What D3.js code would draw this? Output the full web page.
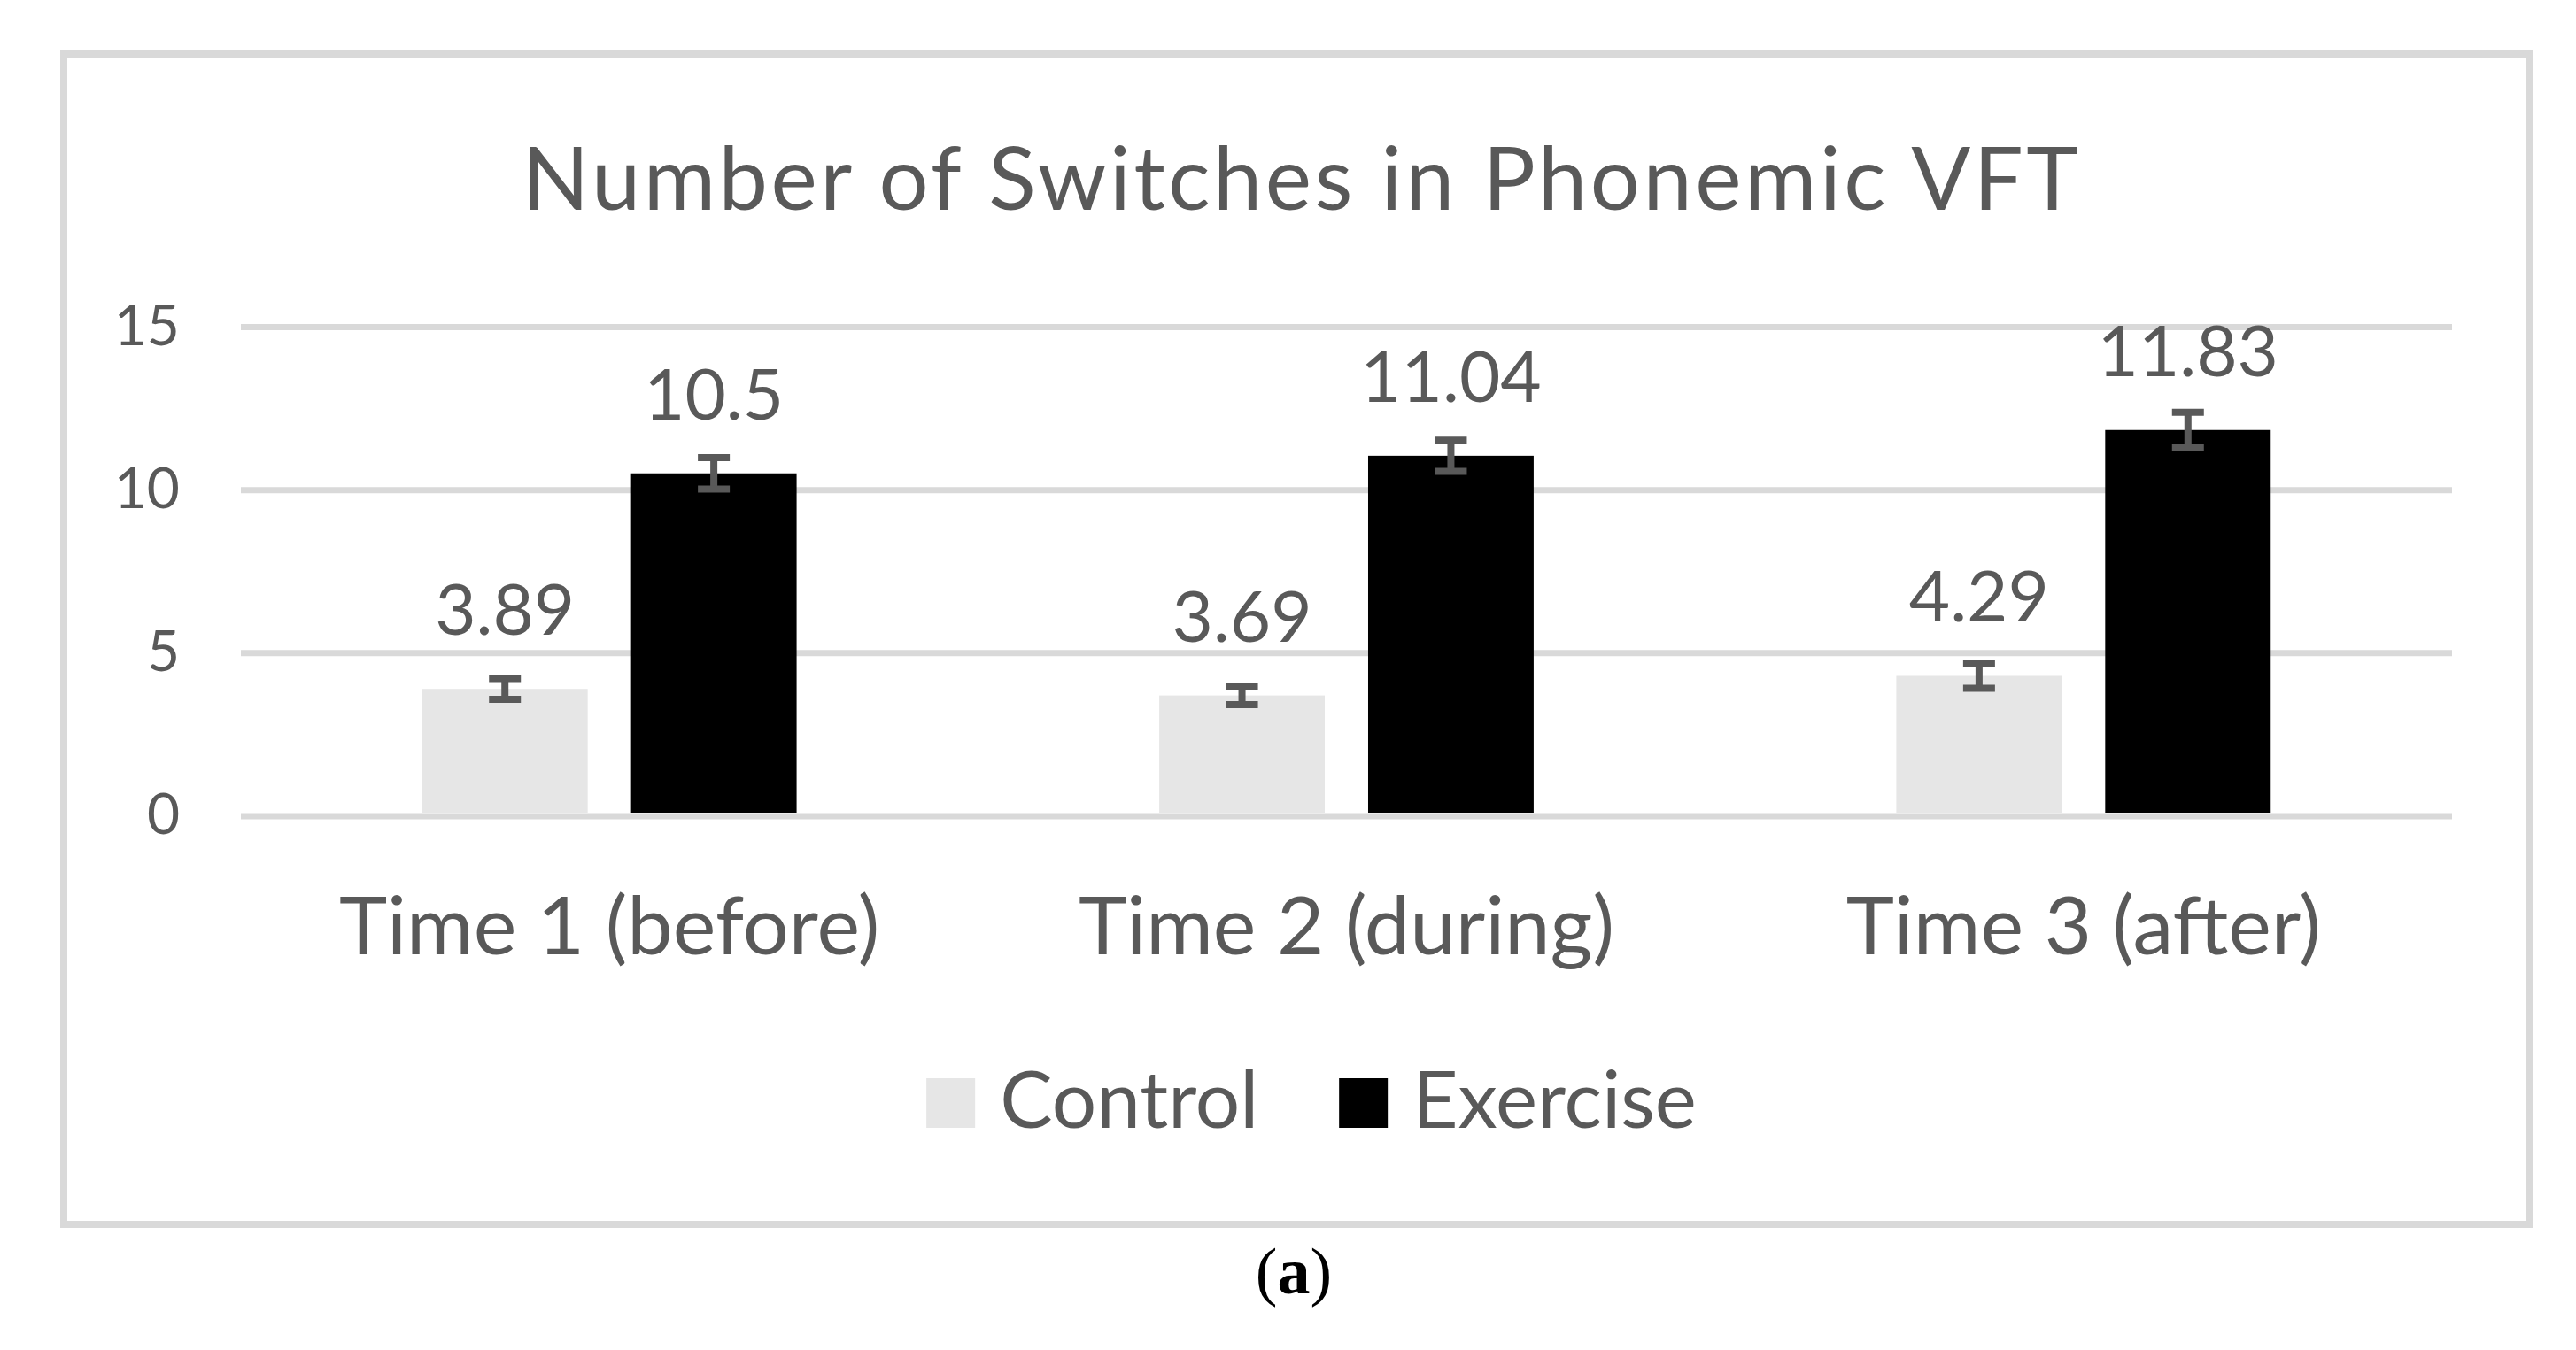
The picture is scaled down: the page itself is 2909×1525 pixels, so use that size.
<!DOCTYPE html>
<html lang="en">
<head>
  <meta charset="utf-8" />
  <style>
    body { margin: 0; background: #fff; }
    text { font-family: Lato, "Open Sans", sans-serif; fill: #595959; }
  </style>
</head>
<body>
<svg width="2909" height="1525"></svg>
<script src="https://d3js.org/d3.v7.min.js"></script>
<script>
var categories = ["Time 1 (before)", "Time 2 (during)", "Time 3 (after)"],
    series = ["Control", "Exercise"],
    controlValues = [3.89, 3.69, 4.29],
    exerciseValues = [10.5, 11.04, 11.83],
    controlErrors = [0.32, 0.28, 0.38],
    exerciseErrors = [0.48, 0.48, 0.54],
    yTicks = [0, 5, 10, 15],
    colors = ["#e6e6e6", "#000000"];

var svg = d3.select("svg");

var rows = categories.map(function(c, i) {
  return {
    category: c,
    bars: [
      { series: series[0], value: controlValues[i], err: controlErrors[i] },
      { series: series[1], value: exerciseValues[i], err: exerciseErrors[i] }
    ]
  };
});

// outer frame
svg.append("rect")
  .attr("x", 72).attr("y", 61)
  .attr("width", 2785).attr("height", 1322)
  .attr("fill", "none")
  .attr("stroke", "#d9d9d9")
  .attr("stroke-width", 8);

var plotLeft = 272, plotRight = 2769, plotTop = 369, plotBottom = 921.5;

var x0 = d3.scaleBand()
  .domain(categories)
  .range([plotLeft, plotRight])
  .paddingInner(0.492)
  .paddingOuter(0.246);

var x1 = d3.scaleBand()
  .domain(series)
  .range([0, x0.bandwidth()])
  .paddingInner(0.2076);

var y = d3.scaleLinear()
  .domain([0, 15])
  .range([plotBottom, plotTop]);

var color = d3.scaleOrdinal().domain(series).range(colors);

// gridlines + tick labels
var yAxis = svg.append("g")
  .attr("transform", "translate(" + plotLeft + ",0)")
  .call(d3.axisLeft(y)
    .tickValues(yTicks)
    .tickSize(-(plotRight - plotLeft))
    .tickPadding(69));

yAxis.select(".domain").remove();
yAxis.selectAll(".tick line")
  .attr("stroke", "#d9d9d9")
  .attr("stroke-width", 7);
yAxis.selectAll(".tick text")
  .attr("fill", "#595959")
  .style("font-family", "Lato, sans-serif")
  .style("font-size", "64px");

// bars
var groups = svg.selectAll("g.cat")
  .data(rows)
  .enter()
  .append("g")
  .attr("class", "cat")
  .attr("transform", function(d) { return "translate(" + x0(d.category) + ",0)"; });

groups.selectAll("rect")
  .data(function(d) { return d.bars; })
  .enter()
  .append("rect")
  .attr("x", function(d) { return x1(d.series); })
  .attr("y", function(d) { return y(d.value); })
  .attr("width", x1.bandwidth())
  .attr("height", function(d) { return y(0) - y(d.value) - 3.5; })
  .attr("fill", function(d) { return color(d.series); });

// error bars
var eb = groups.selectAll("g.err")
  .data(function(d) { return d.bars; })
  .enter()
  .append("g")
  .attr("class", "err")
  .attr("stroke", "#595959")
  .attr("stroke-width", 8)
  .attr("transform", function(d) { return "translate(" + (x1(d.series) + x1.bandwidth() / 2) + ",0)"; });

eb.append("line")
  .attr("x1", 0).attr("x2", 0)
  .attr("y1", function(d) { return y(d.value + d.err); })
  .attr("y2", function(d) { return y(d.value - d.err); });
eb.append("line")
  .attr("x1", -18).attr("x2", 18)
  .attr("y1", function(d) { return y(d.value + d.err); })
  .attr("y2", function(d) { return y(d.value + d.err); });
eb.append("line")
  .attr("x1", -18).attr("x2", 18)
  .attr("y1", function(d) { return y(d.value - d.err); })
  .attr("y2", function(d) { return y(d.value - d.err); });

// data labels
groups.selectAll("text.val")
  .data(function(d) { return d.bars; })
  .enter()
  .append("text")
  .attr("class", "val")
  .attr("x", function(d) { return x1(d.series) + x1.bandwidth() / 2; })
  .attr("y", function(d) { return y(d.value) - 61; })
  .attr("text-anchor", "middle")
  .style("font-size", "80px")
  .text(function(d) { return d.value; });

// category labels
svg.selectAll("text.catlabel")
  .data(categories)
  .enter()
  .append("text")
  .attr("class", "catlabel")
  .attr("x", function(d) { return x0(d) + x0.bandwidth() / 2; })
  .attr("y", 1078)
  .attr("text-anchor", "middle")
  .style("font-size", "92px")
  .text(function(d) { return d; });

// title
svg.append("text")
  .attr("x", 1470)
  .attr("y", 237)
  .attr("text-anchor", "middle")
  .style("font-size", "99px")
  .style("letter-spacing", "3.5px")
  .text("Number of Switches in Phonemic VFT");

// legend
var legend = svg.append("g");
var lx = 0;
series.forEach(function(s, i) {
  var item = legend.append("g").attr("transform", "translate(" + lx + ",0)");
  item.append("rect")
    .attr("x", 0).attr("y", -56)
    .attr("width", 55).attr("height", 56)
    .attr("fill", color(s));
  var t = item.append("text")
    .attr("x", 83).attr("y", 0)
    .style("font-size", "89px")
    .text(s);
  lx += 83 + t.node().getComputedTextLength() + 91;
});
var legendWidth = lx - 91;
legend.attr("transform", "translate(" + (1481 - legendWidth / 2) + ",1274)");

// caption
var cap = svg.append("text")
  .attr("x", 1461)
  .attr("y", 1461)
  .attr("text-anchor", "middle")
  .style("font-family", "'Liberation Serif', 'DejaVu Serif', serif")
  .style("font-size", "74px")
  .style("fill", "#000");
cap.append("tspan").text("(");
cap.append("tspan").style("font-weight", "bold").text("a");
cap.append("tspan").text(")");
</script>
</body>
</html>
